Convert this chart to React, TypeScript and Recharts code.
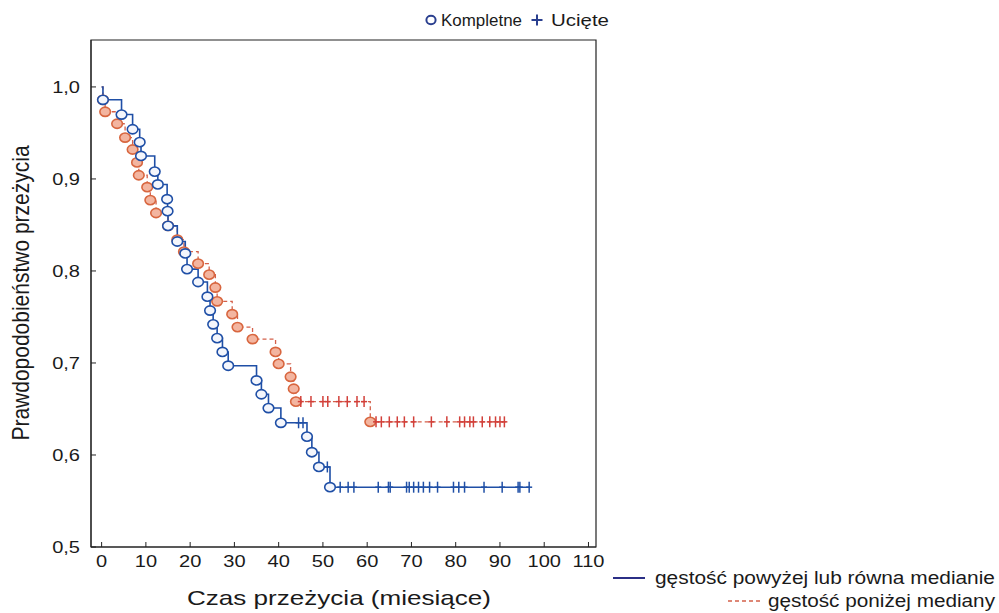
import { ComposedChart, Line, Scatter, XAxis, YAxis, ReferenceArea } from "recharts";

const FONT = "'Liberation Sans', Arial, sans-serif";
const BLUE = "#1f4fa6";
const RED = "#d4604a";

// gęstość powyżej lub równa medianie (solid blue)
const blueTimes = [0, 0.3, 4.5, 7.0, 8.6, 8.9, 12.0, 12.7, 14.8, 14.9, 15.0, 17.1, 18.9, 19.3, 21.8, 23.9, 24.5, 25.2, 26.1, 27.3, 28.6, 35.0, 36.1, 37.7, 40.5, 46.4, 47.5, 49.1, 51.6, 96.8];
const blueSurv = [1.0, 0.986, 0.97, 0.954, 0.94, 0.925, 0.908, 0.894, 0.878, 0.865, 0.849, 0.832, 0.819, 0.802, 0.788, 0.772, 0.757, 0.742, 0.727, 0.712, 0.697, 0.681, 0.666, 0.651, 0.635, 0.62, 0.603, 0.587, 0.565, 0.565];
const blueCensorTimes = [44.5, 45.5, 51.0, 53.9, 55.7, 57.0, 62.5, 64.8, 65.2, 68.9, 69.5, 70.5, 71.6, 72.7, 74.1, 75.9, 79.5, 80.7, 82.0, 86.4, 90.5, 94.1, 94.5, 96.6];
const blueCensorSurv = [0.635, 0.635, 0.587, 0.565, 0.565, 0.565, 0.565, 0.565, 0.565, 0.565, 0.565, 0.565, 0.565, 0.565, 0.565, 0.565, 0.565, 0.565, 0.565, 0.565, 0.565, 0.565, 0.565, 0.565];

// gęstość poniżej mediany (dashed red)
const redTimes = [0, 0.3, 0.8, 3.5, 5.3, 7.0, 8.0, 8.4, 10.3, 11.0, 12.3, 15.0, 17.1, 18.6, 21.8, 24.3, 25.7, 26.1, 29.5, 30.7, 34.1, 39.3, 40.0, 42.7, 43.4, 43.9, 60.7, 91.6];
const redSurv = [1.0, 0.986, 0.973, 0.96, 0.945, 0.932, 0.918, 0.904, 0.891, 0.877, 0.863, 0.849, 0.834, 0.821, 0.808, 0.796, 0.782, 0.767, 0.753, 0.739, 0.726, 0.712, 0.699, 0.685, 0.672, 0.658, 0.636, 0.636];
const redCensorTimes = [45.0, 47.3, 50.0, 51.1, 53.6, 55.5, 57.7, 59.3, 62.0, 63.2, 65.0, 66.8, 68.4, 70.5, 74.5, 78.0, 80.9, 82.0, 83.2, 84.0, 86.0, 87.7, 89.0, 90.0, 91.0];
const redCensorSurv = [0.658, 0.658, 0.658, 0.658, 0.658, 0.658, 0.658, 0.658, 0.636, 0.636, 0.636, 0.636, 0.636, 0.636, 0.636, 0.636, 0.636, 0.636, 0.636, 0.636, 0.636, 0.636, 0.636, 0.636, 0.636];

const xTicks = [0, 10, 20, 30, 40, 50, 60, 70, 80, 90, 100, 110];
const yTicks = [0.5, 0.6, 0.7, 0.8, 0.9, 1.0];
const xDomain = [-2.4, 111.7];
const yDomain = [0.5, 1.051];

const toPoints = (ts: number[], ss: number[]) => ts.map((t, i) => ({ t, s: ss[i] }));

const blueLine = toPoints(blueTimes, blueSurv);
const redLine = toPoints(redTimes, redSurv);
const blueEvents = blueLine.slice(1, -1);
const redEvents = redLine.slice(1, -1);
const blueCensored = toPoints(blueCensorTimes, blueCensorSurv);
const redCensored = toPoints(redCensorTimes, redCensorSurv);

function YTick({ x, y, payload }: any) {
  return (
    <g>
      <line x1={x} x2={x + 5} y1={y} y2={y} stroke="#222" />
      <text transform={`translate(${x - 11},${y + 6}) scale(1.18,1)`} textAnchor="end" fontSize={17} fontFamily={FONT} fill="#1a1a1a">
        {Number(payload.value).toFixed(1).replace(".", ",")}
      </text>
    </g>
  );
}

function XTick({ x, y, payload }: any) {
  return (
    <g>
      <line x1={x} x2={x} y1={y} y2={y - 5} stroke="#222" />
      <text transform={`translate(${x},${y + 20}) scale(1.18,1)`} textAnchor="middle" fontSize={17} fontFamily={FONT} fill="#1a1a1a">
        {payload.value}
      </text>
    </g>
  );
}

const eventShape = (stroke: string, fill: string) => (props: any) => (
  <ellipse cx={props.cx} cy={props.cy} rx={5.3} ry={4.6} stroke={stroke} strokeWidth={1.6} fill={fill} />
);

const censorShape = (stroke: string) => (props: any) => (
  <g stroke={stroke} strokeWidth={1.5}>
    <line x1={props.cx} x2={props.cx} y1={props.cy - 5.5} y2={props.cy + 5.5} />
    <line x1={props.cx - 3} x2={props.cx + 3} y1={props.cy} y2={props.cy} />
  </g>
);

export default function App() {
  return (
    <div style={{ position: "absolute", left: 0, top: 0, width: 999, height: 613, background: "#fff" }}>
      <ComposedChart width={999} height={613} margin={{ top: 40, right: 403, bottom: 36, left: 0 }}>
        <XAxis
          dataKey="t"
          type="number"
          domain={xDomain}
          ticks={xTicks}
          allowDataOverflow
          height={30}
          tickSize={0}
          tickMargin={0}
          tickLine={false}
          tick={<XTick />}
          axisLine={{ stroke: "#222" }}
        />
        <YAxis
          dataKey="s"
          type="number"
          domain={yDomain}
          ticks={yTicks}
          allowDataOverflow
          width={91}
          tickSize={0}
          tickMargin={0}
          tickLine={false}
          tick={<YTick />}
          axisLine={{ stroke: "#222" }}
        />
        <ReferenceArea x1={xDomain[0]} x2={xDomain[1]} y1={yDomain[0]} y2={yDomain[1]} fill="none" stroke="#222" strokeWidth={1.2} ifOverflow="visible" />

        <Line data={redLine} dataKey="s" type="stepAfter" stroke={RED} strokeWidth={1.3} strokeDasharray="4 3" dot={false} isAnimationActive={false} />
        <Line data={blueLine} dataKey="s" type="stepAfter" stroke={BLUE} strokeWidth={1.6} dot={false} isAnimationActive={false} />
        <Scatter data={redEvents} dataKey="s" shape={eventShape("#d8663f", "#f3b5a0")} isAnimationActive={false} />
        <Scatter data={redCensored} dataKey="s" shape={censorShape("#d2403a")} isAnimationActive={false} />
        <Scatter data={blueEvents} dataKey="s" shape={eventShape(BLUE, "#f4f6fc")} isAnimationActive={false} />
        <Scatter data={blueCensored} dataKey="s" shape={censorShape(BLUE)} isAnimationActive={false} />
      </ComposedChart>

      <svg width={999} height={613} style={{ position: "absolute", left: 0, top: 0, pointerEvents: "none" }} fontFamily={FONT} fill="#1a1a1a">
        {/* top legend */}
        <ellipse cx={431} cy={20} rx={4.6} ry={4.2} stroke="#2a3f8f" strokeWidth={2} fill="none" />
        <text x={441} y={26} fontSize={16.5} textLength={81} lengthAdjust="spacingAndGlyphs">Kompletne</text>
        <g stroke="#2a3f8f" strokeWidth={2}>
          <line x1={537} x2={537} y1={14.5} y2={25.5} />
          <line x1={531.5} x2={542.5} y1={20} y2={20} />
        </g>
        <text x={551} y={26} fontSize={16.5} textLength={58} lengthAdjust="spacingAndGlyphs">Ucięte</text>

        {/* axis titles */}
        <text x={339} y={605} textAnchor="middle" fontSize={21} textLength={304} lengthAdjust="spacingAndGlyphs">Czas przeżycia (miesiące)</text>
        <text transform="translate(29,293) rotate(-90) scale(1,1.18)" textAnchor="middle" fontSize={21}>Prawdopodobieństwo przeżycia</text>

        {/* bottom legend */}
        <line x1={613} x2={645} y1={578} y2={578} stroke="#2b2f86" strokeWidth={2} />
        <text x={995} y={584} textAnchor="end" fontSize={17.5} textLength={340} lengthAdjust="spacingAndGlyphs">gęstość powyżej lub równa medianie</text>
        <line x1={728} x2={760} y1={601} y2={601} stroke={RED} strokeWidth={1.5} strokeDasharray="4 3" />
        <text x={995} y={607} textAnchor="end" fontSize={17.5} textLength={227} lengthAdjust="spacingAndGlyphs">gęstość poniżej mediany</text>
      </svg>
    </div>
  );
}
